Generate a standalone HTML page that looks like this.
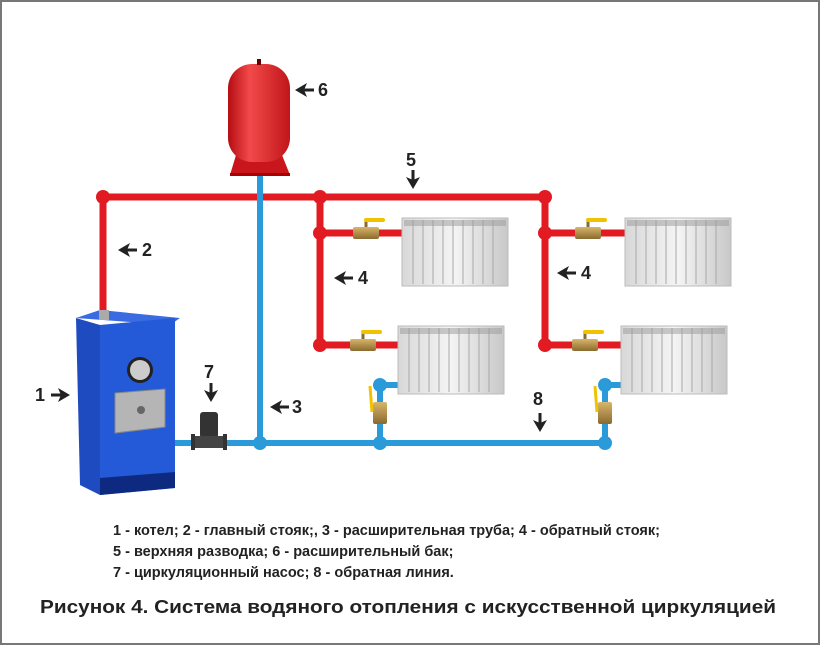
<!DOCTYPE html>
<html><head><meta charset="utf-8"><style>
body{margin:0;background:#fff}
svg{display:block}
text{font-family:"Liberation Sans",Arial,sans-serif;font-weight:bold;fill:#222}
</style></head><body>
<svg width="820" height="645" viewBox="0 0 820 645">
<defs>
<linearGradient id="rad" x1="0" x2="1"><stop offset="0" stop-color="#d8d8d8"/><stop offset="0.5" stop-color="#f4f4f4"/><stop offset="1" stop-color="#c8c8c8"/></linearGradient>
<linearGradient id="tank" x1="0" x2="1"><stop offset="0" stop-color="#b40d12"/><stop offset="0.35" stop-color="#f24a4a"/><stop offset="1" stop-color="#c0151a"/></linearGradient>
<linearGradient id="brass" x1="0" x2="0" y1="0" y2="1"><stop offset="0" stop-color="#d9b56a"/><stop offset="1" stop-color="#8a6a30"/></linearGradient>
<g id="radi">
 <rect x="0" y="0" width="106" height="68" fill="url(#rad)" stroke="#bbb"/>
 <g stroke="#a8a8a8" stroke-width="1">
 <line x1="11" y1="2" x2="11" y2="66"/><line x1="21" y1="2" x2="21" y2="66"/><line x1="31" y1="2" x2="31" y2="66"/><line x1="41" y1="2" x2="41" y2="66"/><line x1="51" y1="2" x2="51" y2="66"/><line x1="61" y1="2" x2="61" y2="66"/><line x1="71" y1="2" x2="71" y2="66"/><line x1="81" y1="2" x2="81" y2="66"/><line x1="91" y1="2" x2="91" y2="66"/>
 </g>
 <rect x="2" y="2" width="102" height="6" fill="#999" opacity="0.5"/>
</g>
<g id="valveH">
 <rect x="0" y="-6" width="26" height="12" rx="2" fill="url(#brass)"/>
 <line x1="13" y1="-6" x2="13" y2="-12" stroke="#8a6a30" stroke-width="3"/>
 <line x1="13" y1="-13" x2="30" y2="-13" stroke="#f2c200" stroke-width="4" stroke-linecap="round"/>
</g>
<g id="arrL"><polygon points="0,0 12,-7 9,0 12,7" fill="#222"/><rect x="9" y="-1.5" width="10" height="3" fill="#222"/></g>
<g id="arrD"><polygon points="0,0 -7,-12 0,-9 7,-12" fill="#222"/><rect x="-1.5" y="-19" width="3" height="10" fill="#222"/></g>
</defs>
<rect x="1" y="1" width="818" height="643" fill="#fff" stroke="#777" stroke-width="2"/>

<!-- red pipes -->
<g stroke="#e21b22" stroke-width="7" fill="none">
<polyline points="103,315 103,197 545,197"/>
<line x1="320" y1="197" x2="320" y2="345"/>
<line x1="545" y1="197" x2="545" y2="345"/>
<line x1="320" y1="233" x2="404" y2="233"/>
<line x1="320" y1="345" x2="400" y2="345"/>
<line x1="545" y1="233" x2="627" y2="233"/>
<line x1="545" y1="345" x2="623" y2="345"/>
</g>
<g fill="#e21b22">
<circle cx="103" cy="197" r="7"/><circle cx="320" cy="197" r="7"/><circle cx="545" cy="197" r="7"/>
<circle cx="320" cy="233" r="7"/><circle cx="320" cy="345" r="7"/><circle cx="545" cy="233" r="7"/><circle cx="545" cy="345" r="7"/>
</g>
<use href="#valveH" x="353" y="233"/><use href="#valveH" x="350" y="345"/>
<use href="#valveH" x="575" y="233"/><use href="#valveH" x="572" y="345"/>

<!-- blue pipes -->
<g stroke="#2a9ad8" stroke-width="6" fill="none">
<line x1="260" y1="160" x2="260" y2="443"/>
<line x1="168" y1="443" x2="605" y2="443"/>
<polyline points="380,443 380,385 400,385"/>
<polyline points="605,443 605,385 623,385"/>
</g>
<g fill="#2a9ad8">
<circle cx="260" cy="443" r="7"/><circle cx="380" cy="443" r="7"/><circle cx="605" cy="443" r="7"/>
<circle cx="380" cy="385" r="7"/><circle cx="605" cy="385" r="7"/>
</g>
<rect x="373" y="402" width="14" height="22" rx="2" fill="url(#brass)"/>
<line x1="370" y1="386" x2="372" y2="412" stroke="#f2c200" stroke-width="3"/>
<rect x="598" y="402" width="14" height="22" rx="2" fill="url(#brass)"/>
<line x1="595" y1="386" x2="597" y2="412" stroke="#f2c200" stroke-width="3"/>

<!-- radiators -->
<use href="#radi" x="402" y="218"/>
<use href="#radi" x="398" y="326"/>
<use href="#radi" x="625" y="218"/>
<use href="#radi" x="621" y="326"/>

<!-- tank -->
<path d="M236,155 L230,175 L290,175 L282,155 Z" fill="#c8161c"/>
<rect x="230" y="173" width="60" height="3" fill="#a00"/>
<rect x="228" y="64" width="62" height="98" rx="24" fill="url(#tank)"/>
<rect x="257" y="59" width="4" height="6" fill="#600"/>

<!-- boiler -->
<polygon points="76,318 100,310 180,318 170,325" fill="#3a6be0"/>
<polygon points="76,318 100,325 100,495 80,485" fill="#1e4bbf"/>
<polygon points="100,325 175,318 175,488 100,495" fill="#2459d8"/>
<polygon points="100,478 175,472 175,488 100,495" fill="#0d2a80"/>
<rect x="99" y="310" width="10" height="10" fill="#aaa"/>
<circle cx="140" cy="370" r="13" fill="#222"/><circle cx="140" cy="370" r="10" fill="#ccc"/>
<polygon points="115,393 165,389 165,427 115,433" fill="#b5b5b5" stroke="#888"/>
<circle cx="141" cy="410" r="4" fill="#666"/>

<!-- pump -->
<rect x="200" y="412" width="18" height="26" rx="3" fill="#333"/>
<rect x="195" y="436" width="28" height="12" fill="#444"/>
<rect x="191" y="434" width="4" height="16" fill="#333"/><rect x="223" y="434" width="4" height="16" fill="#333"/>

<!-- labels -->
<g font-size="18">
<text x="35" y="401">1</text><use href="#arrL" x="52" y="395" transform="rotate(180 61 395)"/>
<use href="#arrL" x="118" y="250"/><text x="142" y="256">2</text>
<use href="#arrL" x="270" y="407"/><text x="292" y="413">3</text>
<use href="#arrL" x="334" y="278"/><text x="358" y="284">4</text>
<use href="#arrL" x="557" y="273"/><text x="581" y="279">4</text>
<text x="406" y="166">5</text><use href="#arrD" x="413" y="189"/>
<use href="#arrL" x="295" y="90"/><text x="318" y="96">6</text>
<text x="204" y="378">7</text><use href="#arrD" x="211" y="402"/>
<text x="533" y="405">8</text><use href="#arrD" x="540" y="432"/>
</g>

<g font-size="14.5">
<text x="113" y="535">1 - котел; 2 - главный стояк;, 3 - расширительная труба; 4 - обратный стояк;</text>
<text x="113" y="556">5 - верхняя разводка; 6 - расширительный бак;</text>
<text x="113" y="577">7 - циркуляционный насос; 8 - обратная линия.</text>
</g>
<text x="40" y="613" font-size="18.5" textLength="736" lengthAdjust="spacingAndGlyphs">Рисунок 4. Система водяного отопления с искусственной циркуляцией</text>
</svg>
</body></html>
